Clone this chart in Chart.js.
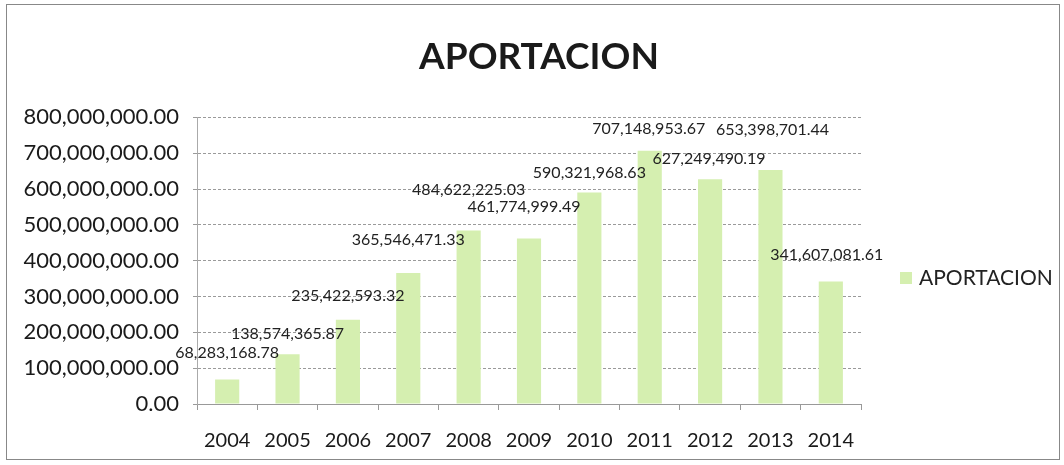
<!DOCTYPE html>
<html>
<head>
<meta charset="utf-8">
<script src="https://cdn.jsdelivr.net/npm/chart.js@4.4.0/dist/chart.umd.min.js"></script>
<style>
  html, body { margin: 0; padding: 0; background: #fff; }
  #wrap { position: absolute; left: 6px; top: 4px; width: 1052px; height: 454px; border: 1.5px solid #888; }
  canvas { position: absolute; left: -7.5px; top: -5.5px; }
</style>
</head>
<body>
<div id="wrap"><canvas id="chartAportacion" width="1064" height="465"></canvas></div>
<script>
const years = ['2004', '2005', '2006', '2007', '2008', '2009', '2010', '2011', '2012', '2013', '2014'];
const aportacion = [68283168.78, 138574365.87, 235422593.32, 365546471.33, 484622225.03, 461774999.49,
  590321968.63, 707148953.67, 627249490.19, 653398701.44, 341607081.61];
const yTicks = [0, 100000000, 200000000, 300000000, 400000000, 500000000, 600000000, 700000000, 800000000];

// offset of each value label from the top of its bar (px)
const labelShift = [[0, -27], [0, -21], [0, -24], [0, -33], [0, -41], [-5, -32],
  [0, -20], [-1, -22], [-1, -20], [2, -40], [-4, -27]];

const fmt = v => v.toLocaleString('en-US', { minimumFractionDigits: 2, maximumFractionDigits: 2 });

const valueLabels = {
  id: 'valueLabels',
  afterDatasetsDraw(chart) {
    const c = chart.ctx;
    const meta = chart.getDatasetMeta(0);
    c.save();
    c.font = '16px Lato';
    c.fillStyle = '#222';
    c.textAlign = 'center';
    c.textBaseline = 'middle';
    meta.data.forEach((bar, i) => {
      c.fillText(fmt(aportacion[i]), bar.x + labelShift[i][0], bar.y + labelShift[i][1]);
    });
    c.restore();
  }
};

// legend drawn at the right, like the spreadsheet one
const sideLegend = {
  id: 'sideLegend',
  afterDraw(chart) {
    const c = chart.ctx;
    const ds = chart.data.datasets[0];
    const x = chart.chartArea.right + 39;
    const y = 278;
    c.save();
    c.fillStyle = ds.backgroundColor;
    c.fillRect(x, y - 6, 12, 12);
    c.font = '21px Lato';
    c.fillStyle = '#222';
    c.textBaseline = 'middle';
    c.fillText(ds.label, x + 19, y);
    c.restore();
  }
};

const ctx = document.getElementById('chartAportacion');

new Chart(ctx, {
  type: 'bar',
  data: {
    labels: years,
    datasets: [{
      label: 'APORTACION',
      data: aportacion,
      backgroundColor: '#d5efb0',
      barPercentage: 0.4,
      categoryPercentage: 1
    }]
  },
  options: {
    responsive: false,
    animation: false,
    layout: { padding: { left: 14, right: 0, top: 0, bottom: 0 } },
    plugins: {
      title: {
        display: true,
        text: 'APORTACION',
        color: '#1a1a1a',
        font: { family: 'Lato', size: 37, weight: 'bold' },
        padding: { top: 35, bottom: 38 }
      },
      legend: { display: false },
      tooltip: { enabled: false }
    },
    scales: {
      x: {
        afterFit: axis => { axis.height = 61; },
        grid: { display: true, drawOnChartArea: false, tickLength: 6, color: '#999', offset: true },
        border: { display: true, color: '#999', dash: [3, 2] },
        ticks: { color: '#1a1a1a', font: { family: 'Lato', size: 20 }, padding: 19 }
      },
      y: {
        min: 0,
        max: 800000000,
        afterBuildTicks: axis => { axis.ticks = yTicks.map(v => ({ value: v })); },
        afterFit: axis => { axis.width = 183; },
        grid: { color: '#9a9a9a', tickLength: 4, lineWidth: 1 },
        border: { display: true, color: '#aaa', dash: [3, 2] },
        ticks: {
          color: '#1a1a1a',
          font: { family: 'Lato', size: 22 },
          padding: 14,
          callback: v => fmt(v)
        }
      },
      // empty axis on the right only reserves room for the legend
      legendRoom: {
        position: 'right',
        axis: 'y',
        type: 'linear',
        afterFit: axis => { axis.width = 203; },
        grid: { drawOnChartArea: false, drawTicks: false },
        border: { display: false },
        ticks: { display: false }
      }
    }
  },
  plugins: [valueLabels, sideLegend]
});
</script>
</body>
</html>
